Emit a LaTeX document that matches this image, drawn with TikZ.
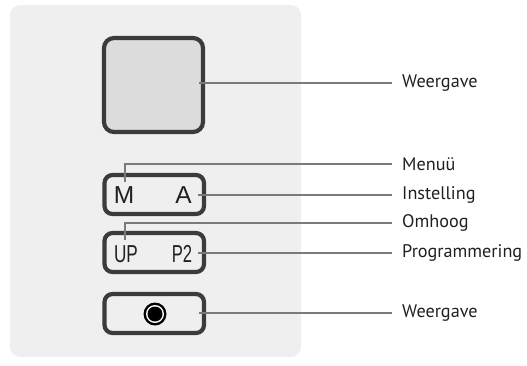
\documentclass[tikz,border=0pt]{standalone}
\usepackage{fontspec}
\setmainfont{PT Sans}
\newfontfamily\keyfont{Liberation Sans}
\definecolor{panel}{HTML}{EFEFEF}
\definecolor{screen}{HTML}{DCDCDC}
\definecolor{frame}{HTML}{3B3B3B}
\definecolor{leader}{HTML}{7A7A7A}
\definecolor{ink}{HTML}{231F20}
\begin{document}
\begin{tikzpicture}[x=1pt,y=-1pt,
  keybox/.style={draw=frame,line width=4.2pt,rounded corners=8pt,inner sep=0pt,minimum width=99.5pt,minimum height=39pt,fill=panel},
  keytext/.style={font=\keyfont\fontsize{24.5}{25}\selectfont,text=ink,inner sep=0pt,anchor=base},
  lead/.style={draw=leader,line width=1.4pt},
  lbl/.style={font=\fontsize{18.2}{20}\selectfont,text=ink,anchor=west,inner sep=0pt}]
\useasboundingbox (0,0) rectangle (527,365);
\fill[panel,rounded corners=10pt] (10,5) rectangle (301,357);
% display
\node[draw=frame,line width=4.2pt,rounded corners=10pt,inner sep=0pt,minimum width=99pt,minimum height=94pt,fill=screen] (disp) at (153.5,85) {};
\node[keybox] (ma) at (154.25,194.5) {};
\node[keybox] (up) at (154.25,252.5) {};
\node[keybox] (btn) at (154.25,313.5) {};
\node[keytext] (m) at (124,203.5) {M};
\node[keytext] (a) at (183.5,203.5) {A};
\node[keytext] (u) at (126,262.5) {\scalebox{0.7}[1]{UP}};
\node[keytext] (p) at (182,262.5) {\scalebox{0.68}[1]{P2}};
% button
\fill[black] (155,314) circle (11.5);
\fill[white] (155,314) circle (9);
\fill[black] (155,314) circle (7.5);
% labels
\node[lbl] (l1) at (402,83) {Weergave};
\node[lbl] (l2) at (402,164) {Menuü};
\node[lbl] (l3) at (402,195) {Instelling};
\node[lbl] (l4) at (402,223) {Omhoog};
\node[lbl] (l5) at (402,253) {Programmering};
\node[lbl] (l6) at (402,313) {Weergave};
% leader start points
\coordinate (s1) at (199,83);
\coordinate (s2) at (125,182);
\coordinate (s3) at (198,195);
\coordinate (s4) at (125,240);
\coordinate (s5) at (198,253);
\coordinate (s6) at (199,313);
\coordinate (e1) at (392,83);
\coordinate (e2) at (392,164);
\coordinate (e3) at (392,195);
\coordinate (e4) at (392,223);
\coordinate (e5) at (392,253);
\coordinate (e6) at (392,313);
\draw[lead] (s1) -- (e1);
\draw[lead] (s2) |- (e2);
\draw[lead] (s3) -- (e3);
\draw[lead] (s4) |- (e4);
\draw[lead] (s5) -- (e5);
\draw[lead] (s6) -- (e6);
\end{tikzpicture}
\end{document}
